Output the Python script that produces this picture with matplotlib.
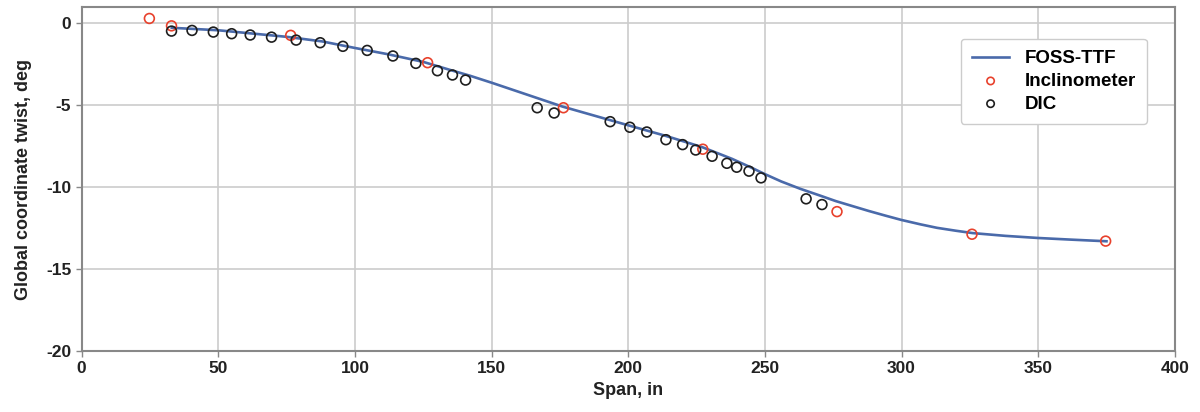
import matplotlib
matplotlib.use("Agg")
import matplotlib.pyplot as plt

plt.rcParams['font.family'] = ['Liberation Sans', 'DejaVu Sans']
plt.rcParams['font.weight'] = 'bold'
plt.rcParams['axes.unicode_minus'] = False

# FOSS-TTF line
foss_x = [33, 40, 50, 60, 75, 88, 100, 112, 125, 135, 142, 150, 163, 176, 188, 200,
          214, 227, 238, 245, 250, 256, 263, 270, 276, 282, 288, 294, 300, 307, 313,
          320, 326, 338, 350, 362, 375]
foss_y = [-0.27, -0.33, -0.42, -0.58, -0.82, -1.1, -1.5, -1.88, -2.35, -2.85, -3.19, -3.62,
          -4.35, -5.08, -5.65, -6.22, -6.88, -7.55, -8.27, -8.8, -9.2, -9.65, -10.1, -10.5,
          -10.85, -11.15, -11.45, -11.73, -12.0, -12.27, -12.48, -12.66, -12.8, -12.97,
          -13.1, -13.2, -13.3]

# Inclinometer
incl_x = [24.8, 32.9, 76.5, 126.6, 176.3, 227.3, 276.4, 325.8, 374.7]
incl_y = [0.30, -0.15, -0.73, -2.40, -5.15, -7.68, -11.49, -12.87, -13.29]

# DIC
dic_x = [32.9, 40.4, 48.2, 54.9, 61.7, 69.5, 78.5, 87.3, 95.6, 104.5, 113.9, 122.3, 130.2,
         135.7, 140.5, 166.7, 172.9, 193.4, 200.6, 206.8, 213.8, 219.9, 224.7, 230.7,
         236.1, 239.7, 244.2, 248.6, 265.1, 270.9]
dic_y = [-0.47, -0.43, -0.53, -0.63, -0.71, -0.84, -1.02, -1.18, -1.40, -1.65, -1.99, -2.44,
         -2.89, -3.15, -3.46, -5.15, -5.47, -6.0, -6.34, -6.63, -7.10, -7.40, -7.73, -8.11,
         -8.54, -8.78, -9.02, -9.43, -10.71, -11.06]

x_ticks = [0, 50, 100, 150, 200, 250, 300, 350, 400]
y_ticks = [0, -5, -10, -15, -20]

fig = plt.figure(figsize=(12, 4.12), dpi=100)
ax = fig.add_axes([0.068, 0.148, 0.911, 0.835])

ax.plot(foss_x, foss_y, color='#4a6aaa', lw=1.9, label='FOSS-TTF', zorder=3,
        solid_joinstyle='round')
ax.scatter(incl_x, incl_y, s=50, facecolors='none', edgecolors='#e8412c', linewidths=1.2,
           label='Inclinometer', zorder=4)
ax.scatter(dic_x, dic_y, s=50, facecolors='none', edgecolors='#1e1e1e', linewidths=1.2,
           label='DIC', zorder=4)

ax.set_xlim(0, 400)
ax.set_ylim(-20, 1)
ax.set_xticks(x_ticks)
ax.set_yticks(y_ticks)
ax.grid(True, color='#cccccc', lw=1.2)
ax.set_axisbelow(True)
for s in ax.spines.values():
    s.set_color('#888888')
    s.set_linewidth(1.5)
ax.tick_params(axis='both', colors='#888888', labelcolor='#222222', labelsize=12.5, length=4, width=1)
for lab in ax.get_xticklabels() + ax.get_yticklabels():
    lab.set_fontweight('bold')

ax.set_xlabel('Span, in', fontsize=13, fontweight='bold', color='#222222', labelpad=4)
ax.set_ylabel('Global coordinate twist, deg', fontsize=13, fontweight='bold', color='#222222', labelpad=10)

leg = ax.legend(loc='upper right', bbox_to_anchor=(0.983, 0.935),
                prop={'weight': 'bold', 'size': 13.5}, frameon=True, fancybox=True,
                edgecolor='#cccccc', framealpha=1, handlelength=2.0, borderpad=0.6,
                labelspacing=0.3, markerscale=0.75)

fig.savefig('out.png', dpi=100)
